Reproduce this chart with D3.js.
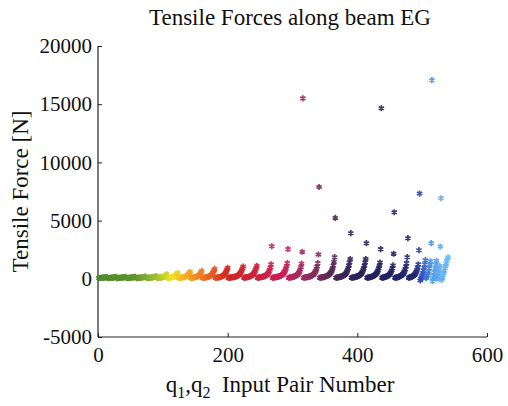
<!DOCTYPE html>
<html><head><meta charset="utf-8">
<script src="https://cdn.jsdelivr.net/npm/d3@7"></script>
<style>
html,body{margin:0;padding:0;background:#fff;}
text{font-family:"Liberation Serif","Times New Roman",serif;fill:#111;}
</style></head>
<body><svg id="chart" width="508" height="406"></svg>
<script>
// Tensile force [N] for each q1,q2 input pair (pair number = position + 1)
const tensileForce = [
  60,70,70,80,80,90,90,100,100,110,110,120,130,150,
  60,70,70,80,80,90,90,100,100,110,120,130,140,160,
  60,60,70,80,80,90,90,100,100,110,120,130,140,150,170,
  60,70,70,80,80,90,90,100,110,120,120,130,150,160,180,
  60,60,70,80,80,90,90,100,110,110,120,130,140,160,180,200,
  60,70,70,80,90,90,100,110,110,120,130,140,160,180,200,230,
  70,70,80,90,90,100,110,120,130,150,170,190,220,270,330,400,
  70,80,80,90,100,110,120,130,140,160,180,210,250,300,370,450,520,
  70,80,80,90,100,110,120,130,140,150,170,190,210,240,280,340,420,510,600,
  80,80,90,100,110,120,130,150,160,180,200,230,270,320,390,480,580,700,
  80,90,90,100,110,120,130,140,160,170,190,210,240,280,330,400,490,600,720,850,
  80,90,100,110,120,130,140,150,170,190,210,230,260,300,360,430,530,650,790,950,
  80,90,100,100,110,120,130,140,150,160,180,190,210,230,260,290,330,380,450,530,630,760,900,1060,
  90,100,110,120,130,140,150,170,180,200,220,250,280,320,370,440,530,640,780,930,1120,
  90,100,110,120,130,140,150,160,180,190,210,230,260,290,330,380,450,540,660,800,980,1250,2800,
  90,100,110,120,130,140,150,160,170,190,200,220,240,270,300,340,390,450,530,630,760,910,1100,1350,2550,
  90,100,110,120,130,140,160,170,190,210,230,260,290,330,380,450,540,660,810,1000,1300,2320,15500,
  90,100,110,120,130,140,150,160,180,190,210,230,250,280,320,360,420,490,580,700,850,1050,1350,2090,7890,
  90,100,110,120,130,140,150,170,180,200,220,240,270,300,340,390,450,530,630,760,930,1150,1450,1860,5230,
  90,100,110,120,130,140,160,170,190,210,230,260,290,330,380,440,520,620,750,910,1120,1400,1700,3920,
  90,100,110,120,130,140,160,170,190,210,230,260,290,330,380,440,520,620,750,910,1120,1400,1700,3060,
  90,100,110,120,130,150,160,180,200,220,250,280,320,370,430,510,610,740,900,1100,1400,2550,14650,
  90,100,110,130,140,160,180,200,230,260,300,350,410,490,590,720,900,1150,2150,5720,
  90,100,110,120,140,150,170,190,220,250,280,330,390,460,550,670,830,1050,1350,1860,3490,
  90,110,120,140,160,180,210,240,280,330,400,490,600,750,950,1250,2460,7320,
  -150,0,150,300,500,700,950,1250,1600,
  50,150,300,450,650,900,1200,1500,3060,17070,
  -200,100,300,550,850,1200,1550,
  0,200,450,750,1100,2770,6920,
  -100,100,300,500,700,900,1100,1300,1500,1700,1850
];
const xTicks = [0, 200, 400, 600];
const yTicks = [-5000, 0, 5000, 10000, 15000, 20000];
// colour stops along the pair number
const colorStops = [0, 60, 95, 115, 140, 170, 200, 250, 290, 320, 350, 380, 430, 490, 500, 515, 540];
const colorValues = ["#4d8a2e","#5f9530","#a8c432","#f0e422","#f5a623","#ec6a22","#d02a22","#cc2240","#c8205a","#983060","#6a2a5a","#3a2558","#22225e","#242a70","#3452c0","#4c98e6","#6cbcf6"];

const svg = d3.select("#chart");
const x = d3.scaleLinear().domain([0, 600]).range([98, 487]);
const y = d3.scaleLinear().domain([-5000, 20000]).range([337, 46]);
const color = d3.scaleLinear().domain(colorStops).range(colorValues).clamp(true);

// axes (box off, ticks inward)
const xAxis = d3.axisBottom(x).tickValues(xTicks).tickSize(-4).tickPadding(8).tickFormat(d => String(d));
const yAxis = d3.axisLeft(y).tickValues(yTicks).tickSize(-4).tickPadding(6).tickFormat(d => String(d));
const gx = svg.append("g").attr("transform", `translate(0,${y(-5000)})`).call(xAxis);
const gy = svg.append("g").attr("transform", `translate(${x(0)},0)`).call(yAxis);
[gx, gy].forEach(g => {
  g.select(".domain").attr("stroke", "#222").attr("stroke-width", 1.2);
  g.selectAll(".tick line").attr("stroke", "#222").attr("stroke-width", 1);
  g.selectAll(".tick text").style("font-size", "21px").style("font-family", "Liberation Serif, serif").attr("fill", "#111");
});
gx.select(".domain").attr("d", `M${x(0)},0H${x(600)}`);
gy.select(".domain").attr("d", `M0,${y(20000)}V${y(-5000)}`);
gx.selectAll(".tick text").attr("dy", "0.8em");

// points
const sym = d3.symbol().type(d3.symbolAsterisk).size(26);
svg.append("g").selectAll("path").data(tensileForce).join("path")
  .attr("d", sym)
  .attr("transform", (d, i) => `translate(${x(i + 1)},${y(d)})`)
  .attr("fill", "none")
  .attr("stroke", (d, i) => color(i + 1))
  .attr("stroke-width", 1.7)
  .attr("opacity", 0.9);

// title and labels
svg.append("text").attr("x", 290).attr("y", 25).attr("text-anchor", "middle")
  .style("font-size", "23px").text("Tensile Forces along beam EG");
const xl = svg.append("text").attr("x", 280).attr("y", 392).attr("text-anchor", "middle").style("font-size", "23px");
xl.append("tspan").text("q");
xl.append("tspan").attr("dy", 6).style("font-size", "16px").text("1");
xl.append("tspan").attr("dy", -6).text(",q");
xl.append("tspan").attr("dy", 6).style("font-size", "16px").text("2");
xl.append("tspan").attr("dy", -6).text("\u00a0 Input Pair Number");
svg.append("text").attr("transform", `translate(28,${y(7500)}) rotate(-90)`).attr("text-anchor", "middle")
  .style("font-size", "23px").text("Tensile Force [N]");
</script></body></html>
